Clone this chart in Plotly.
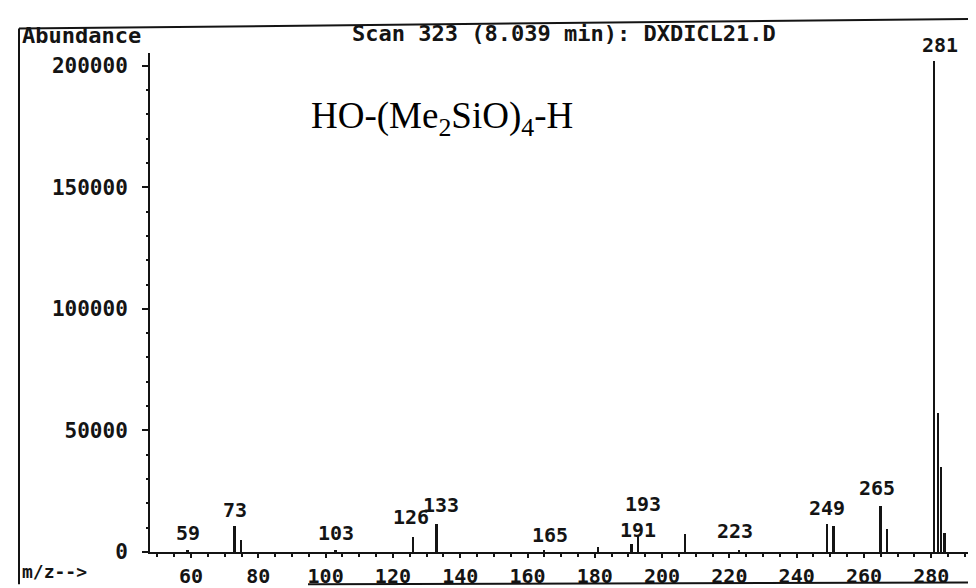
import plotly.graph_objects as go

# ---- data ----
mz_values = [59, 73, 75, 103, 126, 133, 165, 181, 191, 193, 207, 223,
             249, 251, 265, 267, 281, 282, 283, 284]
abundance = [600, 10700, 5000, 600, 6000, 11500, 600, 2000, 3400, 6700, 7400, 600,
             11400, 10700, 18800, 9400, 202000, 57000, 35000, 8000]
labeled_mz = [59, 73, 103, 126, 133, 165, 191, 193, 223, 249, 265, 281]
x_ticks = [60, 80, 100, 120, 140, 160, 180, 200, 220, 240, 260, 280]
y_ticks = [0, 50000, 100000, 150000, 200000]
y_tick_text = ["0", "50000", "100000", "150000", "200000"]
title_text = "Scan 323 (8.039 min): DXDICL21.D"
compound = "HO-(Me<sub>2</sub>SiO)<sub>4</sub>-H"

INK = "#141414"
MONO = "DejaVu Sans Mono"

W, H = 976, 588
L, R, T, B = 142, 8, 45, 33
pw, ph = W - L - R, H - T - B


def px(xp):
    return (xp - L) / pw


def py(yp):
    return (H - B - yp) / ph


fig = go.Figure()
fig.add_trace(go.Bar(x=mz_values, y=abundance, width=0.5,
                     marker=dict(color=INK, line=dict(width=0)),
                     hoverinfo="x+y"))

ab_map = dict(zip(mz_values, abundance))
label_shift = {59: (0, -2), 103: (0, -2), 126: (-2, -4), 133: (4, -3),
               165: (6, 0), 191: (6, 2), 193: (4, -16), 223: (-4, -4),
               249: (0, 0), 265: (-4, -2), 281: (5, 0), 73: (0, 0)}
annotations = []
for m in labeled_mz:
    dx, dy = label_shift.get(m, (0, 0))
    annotations.append(dict(x=m, y=ab_map[m], xref="x", yref="y", text=str(m),
                            showarrow=False, yanchor="bottom", xanchor="center",
                            xshift=dx, yshift=3 - dy, borderpad=0,
                            font=dict(family=MONO, size=20, color=INK,
                                      weight="bold")))

annotations += [
    dict(x=px(12), y=py(27), xref="paper", yref="paper", text="Abundance",
         showarrow=False, xanchor="left", yanchor="middle",
         font=dict(family=MONO, size=22, color=INK, weight="bold")),
    dict(x=px(556), y=py(25), xref="paper", yref="paper", text=title_text,
         showarrow=False, xanchor="center", yanchor="middle",
         font=dict(family=MONO, size=22, color=INK, weight="bold")),
    dict(x=px(12), y=py(575), xref="paper", yref="paper", text="m/z-->",
         showarrow=False, xanchor="left", yanchor="middle",
         font=dict(family=MONO, size=18, color=INK, weight="bold")),
    dict(x=px(434), y=py(112), xref="paper", yref="paper", text=compound,
         showarrow=False, xanchor="center", yanchor="middle",
         font=dict(family="Liberation Serif", size=37, color="#000")),
]

shapes = [
    dict(type="line", xref="paper", yref="paper", x0=px(11), x1=px(11),
         y0=py(20), y1=py(588), line=dict(color=INK, width=2)),
    dict(type="line", xref="paper", yref="paper", x0=px(11), x1=px(976),
         y0=py(20), y1=py(10), line=dict(color=INK, width=2)),
    dict(type="line", xref="paper", yref="paper", x0=px(300), x1=px(976),
         y0=py(588), y1=py(586), line=dict(color=INK, width=2)),
]

fig.update_layout(
    width=W, height=H,
    margin=dict(l=L, r=R, t=T, b=B, pad=0),
    paper_bgcolor="white", plot_bgcolor="white",
    showlegend=False, bargap=0,
    annotations=annotations, shapes=shapes,
    xaxis=dict(range=[47.8, 293.3], tickmode="array", tickvals=x_ticks,
               ticks="outside", ticklen=4, tickwidth=2, tickcolor=INK,
               showline=True, linecolor=INK, linewidth=2, showgrid=False,
               zeroline=False, ticklabelstandoff=1,
               tickfont=dict(family=MONO, size=20, color=INK, weight="bold"),
               minor=dict(dtick=5, ticks="outside", ticklen=3, tickcolor=INK,
                          showgrid=False)),
    yaxis=dict(range=[0, 205200], tickmode="array", tickvals=y_ticks,
               ticktext=y_tick_text, ticks="outside", ticklen=6, tickwidth=2,
               tickcolor=INK, showline=True, linecolor=INK, linewidth=2,
               showgrid=False, zeroline=False, ticklabelstandoff=10,
               tickfont=dict(family=MONO, size=21, color=INK, weight="bold"),
               minor=dict(dtick=10000, ticks="outside", ticklen=2,
                          tickcolor=INK, showgrid=False)),
)

fig.write_html("out.html")
